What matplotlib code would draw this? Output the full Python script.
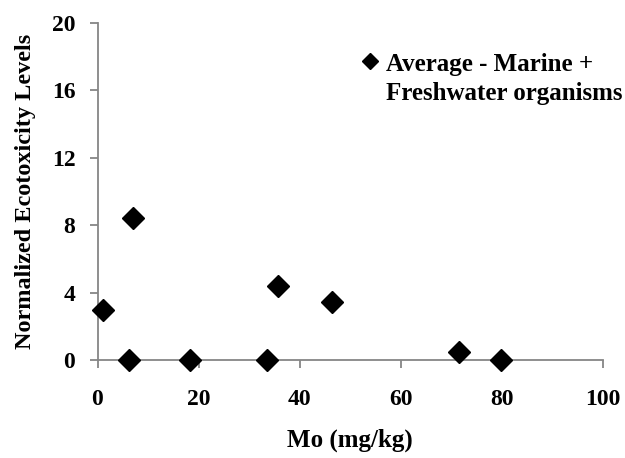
import matplotlib
matplotlib.use('Agg')
import matplotlib.pyplot as plt
from matplotlib.legend_handler import HandlerLine2D

# data
mo = [1.1, 6.2, 7.1, 18.3, 33.5, 35.7, 46.3, 71.5, 79.8]
eco = [2.95, 0.0, 8.4, 0.0, 0.0, 4.4, 3.45, 0.45, 0.0]
x_ticks = [0, 20, 40, 60, 80, 100]
y_ticks = [0, 4, 8, 12, 16, 20]


class FirstLineHandler(HandlerLine2D):
    # put the legend marker next to the first line of a two-line label
    def create_artists(self, legend, orig_handle, xdescent, ydescent,
                       width, height, fontsize, trans):
        shift = 0.72 * fontsize
        return super().create_artists(legend, orig_handle, xdescent,
                                      ydescent - 2 * shift, width, height,
                                      fontsize, trans)


plt.rcParams['font.family'] = 'Liberation Serif'
plt.rcParams['font.weight'] = 'bold'

fig = plt.figure(figsize=(6.25, 4.58), dpi=100)
ax = fig.add_axes([0.156, 0.214, 0.809, 0.736])

line, = ax.plot(mo, eco, linestyle='none', marker='D', ms=11, color='black',
                clip_on=False, zorder=3,
                label='Average - Marine +\nFreshwater organisms')

ax.set_xlim(0, 100)
ax.set_ylim(0, 20)
ax.set_xticks(x_ticks)
ax.set_yticks(y_ticks)

for side in ['top', 'right']:
    ax.spines[side].set_visible(False)
for side in ['left', 'bottom']:
    ax.spines[side].set_color('#868686')
    ax.spines[side].set_linewidth(1.3)
ax.tick_params(axis='both', colors='#868686', length=6, width=1.3,
               labelcolor='black', labelsize=17)
ax.tick_params(axis='x', pad=15)
ax.tick_params(axis='y', pad=10)
for lab in ax.get_xticklabels() + ax.get_yticklabels():
    lab.set_fontweight('bold')

ax.set_xlabel('Mo (mg/kg)', fontsize=18, fontweight='bold', labelpad=13)
ax.set_ylabel('Normalized Ecotoxicity Levels', fontsize=17.5,
              fontweight='bold', labelpad=11)

leg = ax.legend(handles=[line], loc='upper left',
                bbox_to_anchor=(362 / 625, 1 - 53 / 458),
                bbox_transform=fig.transFigure, frameon=False,
                borderpad=0, borderaxespad=0,
                handlelength=0.6, handletextpad=0.35, markerscale=0.75,
                prop={'weight': 'bold', 'size': 18},
                handler_map={line: FirstLineHandler()})
for t in leg.get_texts():
    t.set_linespacing(1.35)

plt.savefig('out.png', dpi=100)
